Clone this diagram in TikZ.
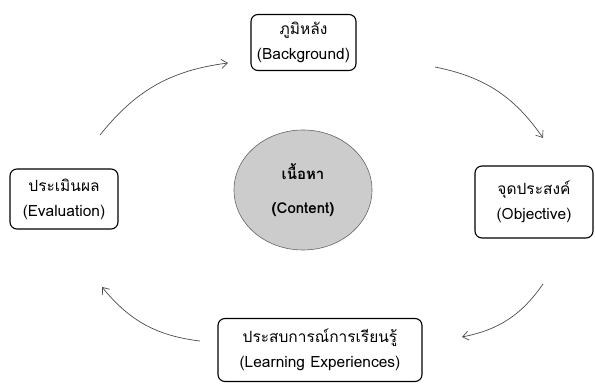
\documentclass[tikz,border=0pt]{standalone}
\usepackage{fontspec}
\setmainfont[Script=Thai]{Loma}
\usetikzlibrary{arrows.meta,shapes.geometric}
\tikzset{
  stagebox/.style={rectangle,rounded corners=7pt,draw=black,line width=1.1pt,align=center,inner sep=0pt},
  cyclearrow/.style={-{Straight Barb[length=6pt,width=9pt]},draw=black!70,line width=0.7pt,bend left=22}
}
\begin{document}
\begin{tikzpicture}
		[x=1pt,y=-1pt,font=\fontsize{15.5}{25}\selectfont]
		\useasboundingbox (0,0) rectangle (595,387);
		\node (Background) [stagebox,minimum width=105pt,minimum height=56pt] at (303.5,42.5) {ภูมิหลัง\\(Background)};
		\node (Objective) [stagebox,minimum width=118pt,minimum height=72pt] at (534,202) {จุดประสงค์\\(Objective)};
		\node (Learning) [stagebox,minimum width=204pt,minimum height=63pt] at (320,350) {ประสบการณ์การเรียนรู้\\(Learning Experiences)};
		\node (Evaluation) [stagebox,minimum width=108pt,minimum height=60pt] at (64,199) {ประเมินผล\\(Evaluation)};
		\node (Content) [ellipse,draw=black!60,fill=black!20,line width=0.6pt,minimum width=138pt,minimum height=120pt,align=center,font=\fontsize{15}{34}\selectfont\bfseries] at (303,190) {เนื้อหา\\(Content)};
		% free ends of the cycle arrows
		\coordinate (e2bS) at (100,135);
		\coordinate (e2bE) at (228,63);
		\coordinate (b2oS) at (435,67);
		\coordinate (b2oE) at (543,138);
		\coordinate (o2lS) at (543,284);
		\coordinate (o2lE) at (462,337);
		\coordinate (l2eS) at (200,341);
		\coordinate (l2eE) at (102,287);
		\draw[cyclearrow] (e2bS) to (e2bE);
		\draw[cyclearrow] (b2oS) to (b2oE);
		\draw[cyclearrow] (o2lS) to (o2lE);
		\draw[cyclearrow] (l2eS) to (l2eE);
	\end{tikzpicture}
\end{document}
